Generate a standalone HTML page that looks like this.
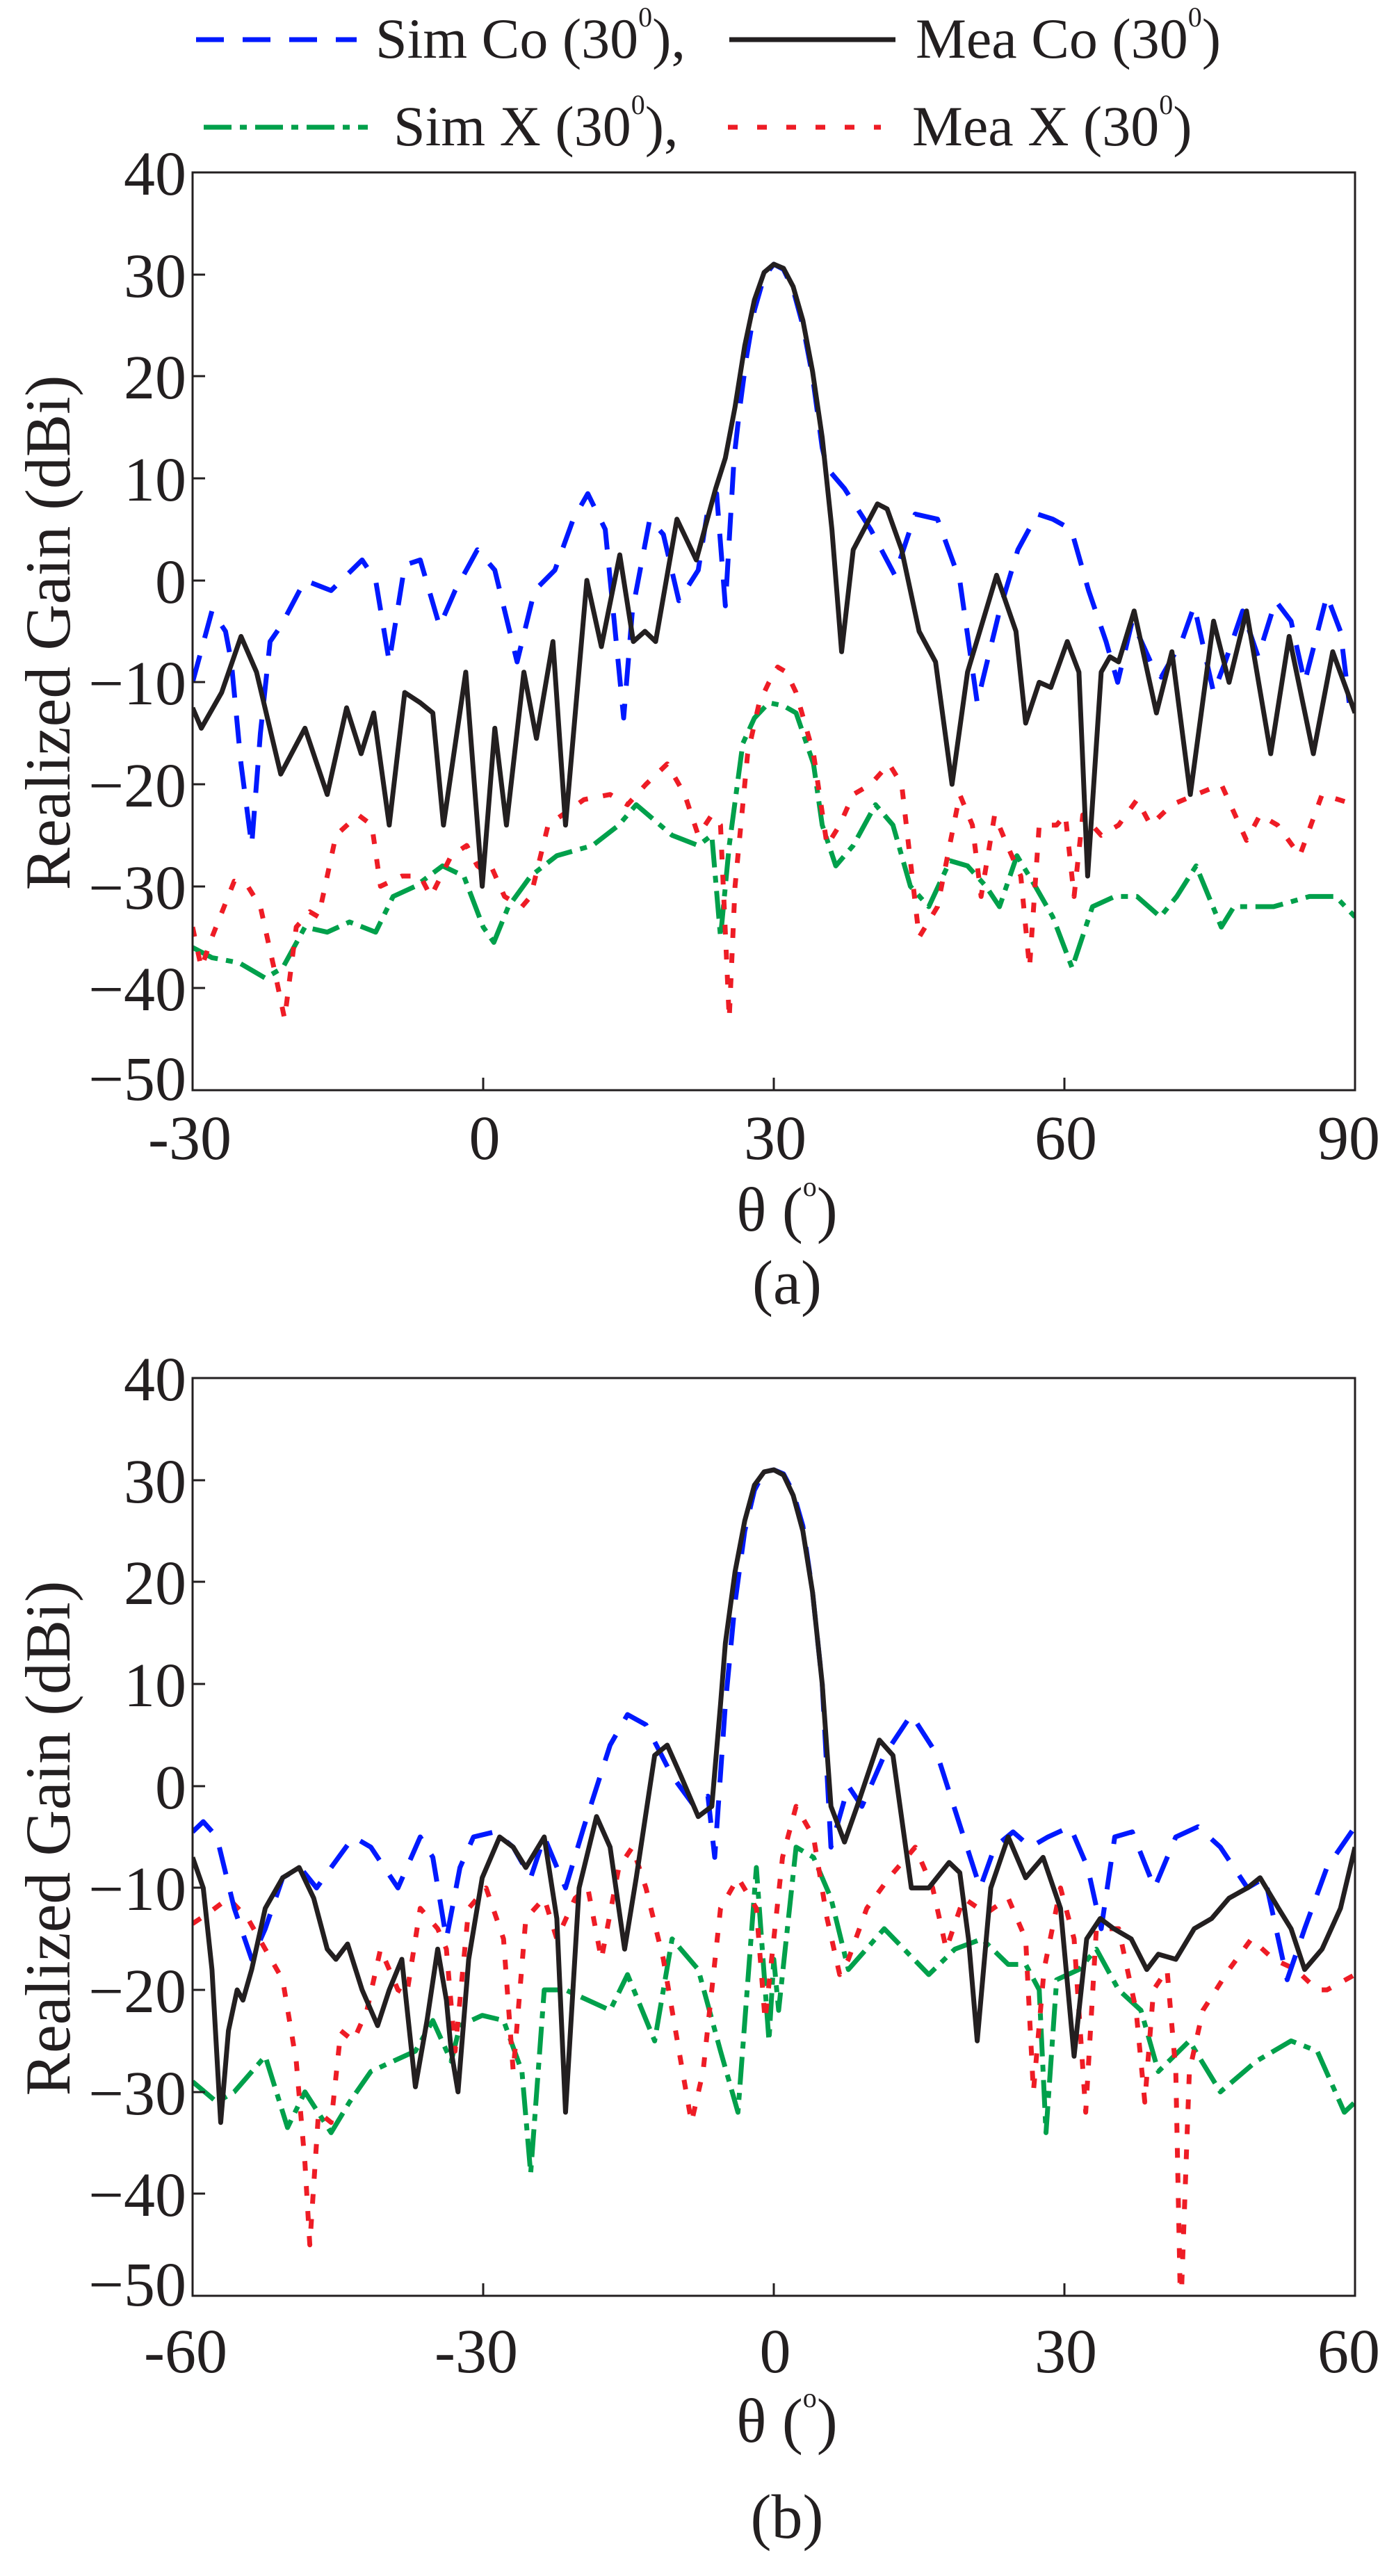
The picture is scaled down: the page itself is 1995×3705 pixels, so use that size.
<!DOCTYPE html>
<html><head><meta charset="utf-8"><style>
html,body{margin:0;padding:0;background:#fff;}
svg{display:block;}
text{font-family:"Liberation Serif","Times New Roman",serif;fill:#231f20;}
.ln{fill:none;vector-effect:non-scaling-stroke;stroke-width:7;stroke-linejoin:round;stroke-linecap:butt;}
.blue{stroke:#0019ff;stroke-dasharray:40 26;}
.black{stroke:#231f20;}
.green{stroke:#00a04b;stroke-dasharray:40 12 10 12;}
.red{stroke:#ee1c25;stroke-dasharray:14 22;}
</style></head><body>
<svg width="1995" height="3705" viewBox="0 0 1995 3705" xmlns="http://www.w3.org/2000/svg" font-family="Liberation Serif, Times New Roman, serif">
<defs>
<clipPath id="ca"><rect x="277" y="248" width="1672" height="1320"/></clipPath>
<clipPath id="cb"><rect x="277" y="1982" width="1672" height="1320"/></clipPath>
</defs>

<!-- Legend -->
<line x1="282" y1="57" x2="513" y2="57" stroke="#0019ff" stroke-width="7" stroke-dasharray="40 27"/>
<text x="540" y="83" font-size="82" font-family="Liberation Serif, serif">Sim Co (30<tspan font-size="40" dy="-45">0</tspan><tspan dy="45">),</tspan></text>
<line x1="1049" y1="57" x2="1288" y2="57" stroke="#231f20" stroke-width="7"/>
<text x="1317" y="83" font-size="82" font-family="Liberation Serif, serif">Mea Co (30<tspan font-size="40" dy="-45">0</tspan><tspan dy="45">)</tspan></text>
<line x1="293" y1="183" x2="529" y2="183" stroke="#00a04b" stroke-width="7" stroke-dasharray="40 12 10 12"/>
<text x="566" y="209" font-size="82" font-family="Liberation Serif, serif">Sim X (30<tspan font-size="40" dy="-45">0</tspan><tspan dy="45">),</tspan></text>
<line x1="1047" y1="183" x2="1267" y2="183" stroke="#ee1c25" stroke-width="7" stroke-dasharray="14 28"/>
<text x="1312" y="209" font-size="82" font-family="Liberation Serif, serif">Mea X (30<tspan font-size="40" dy="-45">0</tspan><tspan dy="45">)</tspan></text>

<!-- ============ Plot (a) ============ -->
<g clip-path="url(#ca)">
<g transform="matrix(13.933,0,0,-14.667,695,834.7)">
<polyline class="ln green" points="-30,-36 -28,-37 -25.2,-37.5 -22.5,-39 -20.7,-38 -18.4,-34 -16.1,-34.5 -13.8,-33.5 -11.1,-34.5 -9.3,-31 -7,-30 -4.2,-28 -2,-29 0,-34 1.1,-35.5 2.6,-32 4.9,-29 7.6,-27 11.3,-26 14,-24 15.8,-22 19.5,-25 22.2,-26 23.6,-25 24.5,-35 25.4,-26 26.8,-16 28,-13.5 29.5,-12 31,-12.3 32.3,-13 34.1,-18 35,-24 36.4,-28 38.2,-26 40.5,-22 42.3,-24 44.1,-30 46,-32 48.2,-27.5 50,-28 51.9,-30 53.3,-32 55.1,-27 57,-30 58.8,-33 60.8,-38 62.9,-32 65.2,-31 67.5,-31 69.9,-33 71.6,-31 73.6,-28 76.2,-34 77.5,-32 81.6,-32 85.3,-31 88,-31 90,-33"/>
<polyline class="ln red" points="-30,-34 -29.1,-38 -28,-35 -25.7,-29.5 -24.3,-30 -23,-32 -21.6,-38 -20.5,-43 -19.3,-34 -17.9,-32.5 -17,-33 -15.2,-25 -12.9,-23 -11.5,-24 -10.6,-30 -8.4,-29 -6.5,-29 -5.4,-31 -3.3,-27 -1.7,-26 -0.6,-28 0.1,-28.5 0.8,-28 2.2,-31 4,-32 4.9,-31 6.7,-24 10.4,-21.5 13.1,-21 14.9,-22 16.8,-20 19,-18 20.8,-21 22.2,-25 23.6,-23 24.5,-24 25.4,-43 26,-30 27.3,-17 28.5,-12 29.5,-10 30.4,-8.5 31.3,-9 32.3,-11 34.1,-17 35.5,-26 36.8,-24 38.2,-21 40,-20 41.9,-18 43.2,-20 45,-35 46.9,-32 49.2,-21 50.5,-24 51.4,-31 52.8,-23 54.1,-26 55.5,-29 56.4,-38 57.4,-24 59.2,-24 60.1,-23 61,-31 61.9,-23 63.8,-25 65.6,-24 67.5,-21.5 68.9,-24 71.1,-22 73.6,-21 76.2,-20 78.8,-25.5 80.2,-23 82,-24 84.3,-27 86.6,-21 90,-22"/>
<polyline class="ln blue" points="-30,-10 -28,-3 -26.6,-5 -26,-8 -25,-18 -23.9,-26 -23,-15 -22,-6 -20.9,-4.5 -18.4,0 -15.7,-1 -12.5,2 -11.1,0 -9.7,-8 -8.1,1.5 -6.5,2 -4.5,-4.5 -2.9,-1 -0.6,3 1.2,1 3.5,-8 5.3,-1 7.4,1 9.3,6 10.8,8.5 12.6,5 14.5,-13.5 15.4,-3 17.2,6 18.6,4.5 20.2,-2 22.2,1 23.2,7 24.1,8.5 25,-2.5 25.9,12 26.5,17 27.2,22 28,26.5 29,29.8 30,31 31,30.5 32,28.5 33,25 34,20 35,13 35.5,11 37.3,9 40,5 42.5,0.5 44.6,6.5 46.9,6 49.2,0 51,-12 53.3,-3 55.2,3 57.2,6.5 58.8,6 60.7,5 62.5,-1 64.3,-6 65.5,-10 67,-4 68.9,-8 70,-9.5 72.1,-6 73.4,-2.5 75.4,-11 76.6,-8 78.4,-3 80,-7.5 81.8,-2 83.4,-4 84.8,-10 87.1,-1.5 88.5,-5 89.4,-12"/>
<polyline class="ln black" points="-30,-12.5 -29.1,-14.5 -27,-11 -25,-5.5 -23.4,-9 -20.9,-19 -18.4,-14.5 -16.1,-21 -14.1,-12.5 -12.6,-17 -11.3,-13 -9.7,-24 -8.1,-11 -6.5,-12 -5.2,-13 -4.1,-24 -1.8,-9 -0.1,-30 1.2,-14.5 2.4,-24 4.2,-9 5.5,-15.5 7.2,-6 8.5,-24 10.7,0 12.2,-6.5 14.1,2.5 15.5,-6 16.7,-5 17.8,-6 20,6 22,2 24,9 25,12 26,17 27,23 28,27.5 29,30.2 30,31 31,30.6 32,28.8 33,25.5 34,20.5 35,14 36,5 37,-7 38.2,3 40.7,7.5 41.7,7 43.2,3 45,-5 46.7,-8 48.4,-20 50,-9 53,0.5 55,-5 56,-14 57.4,-10 58.6,-10.5 60.3,-6 61.5,-9 62.4,-29 63.8,-9 64.7,-7.5 65.6,-8 67.2,-3 69.5,-13 71.1,-7 73,-21 75.4,-4 77,-10 78.8,-3 81.3,-17 83.2,-5.5 85.7,-17 87.7,-7 90,-13"/>
</g></g>
<rect x="277" y="248" width="1672" height="1320" fill="none" stroke="#231f20" stroke-width="3"/>
<g stroke="#231f20" stroke-width="3">
<line x1="277" y1="395" x2="295" y2="395"/><line x1="277" y1="541" x2="295" y2="541"/><line x1="277" y1="688" x2="295" y2="688"/><line x1="277" y1="835" x2="295" y2="835"/><line x1="277" y1="981" x2="295" y2="981"/><line x1="277" y1="1128" x2="295" y2="1128"/><line x1="277" y1="1275" x2="295" y2="1275"/><line x1="277" y1="1421" x2="295" y2="1421"/>
<line x1="695" y1="1568" x2="695" y2="1550"/><line x1="1113" y1="1568" x2="1113" y2="1550"/><line x1="1531" y1="1568" x2="1531" y2="1550"/>
</g>
<g font-size="90" text-anchor="end" font-family="Liberation Serif, serif">
<text x="268" y="280">40</text><text x="268" y="427">30</text><text x="268" y="573">20</text><text x="268" y="720">10</text><text x="268" y="867">0</text><text x="268" y="1013">−10</text><text x="268" y="1160">−20</text><text x="268" y="1307">−30</text><text x="268" y="1453">−40</text><text x="268" y="1582">−50</text>
</g>
<g font-size="90" text-anchor="middle" font-family="Liberation Serif, serif">
<text x="273" y="1667">-30</text><text x="697" y="1667">0</text><text x="1115" y="1667">30</text><text x="1533" y="1667">60</text><text x="1940" y="1667">90</text>
<text x="1132" y="1770">θ (<tspan font-size="40" dy="-50">o</tspan><tspan dy="50">)</tspan></text>
<text x="1132" y="1875">(a)</text>
</g>
<text transform="translate(100,910) rotate(-90)" font-size="92" text-anchor="middle" font-family="Liberation Serif, serif">Realized Gain (dBi)</text>

<!-- ============ Plot (b) ============ -->
<g clip-path="url(#cb)">
<g transform="matrix(13.933,0,0,-14.667,1113,2568.7)">
<polyline class="ln green" points="-60,-29 -57.5,-31 -55.7,-30 -52.5,-26.5 -50.2,-33.5 -48.4,-30 -45.7,-34 -43.8,-31 -41.6,-28 -39.3,-27 -37,-26 -35.2,-23 -33.3,-27 -32.4,-23.5 -30.1,-22.5 -27.9,-23 -26,-28 -25.1,-38 -23.7,-20 -21.5,-20 -16.9,-22 -15.1,-18.5 -12.3,-25 -10.5,-15 -7.8,-18 -5.5,-26 -3.7,-32 -1.8,-8 -0.5,-25 0,-17 0.5,-22 2.3,-6 4.1,-7 5.9,-11 7.7,-18 11.4,-14 16,-18.5 18.7,-16 21.5,-15 24.2,-17.5 26,-17.5 27.4,-20 28.1,-34 29.2,-19 31.5,-18 33.3,-16 35.6,-20 37.9,-22 39.7,-28 42.9,-25 46.1,-30 49.8,-27 53.4,-25 56.1,-26 58.9,-32 60,-31"/>
<polyline class="ln red" points="-60,-13.5 -58.4,-12.5 -56.3,-11 -54.3,-13 -52.5,-16 -50.7,-19 -49.3,-27 -48.4,-37 -47.9,-45 -47,-32 -45.7,-33 -44.7,-24 -43.4,-25 -42,-22 -40.6,-16 -38.8,-20 -37.9,-20.5 -36.5,-12 -34.7,-14 -33.8,-16 -32.9,-26 -31.5,-12 -29.7,-10 -27.9,-15 -26.9,-28 -25.6,-13 -23.7,-11 -22.4,-15 -20.5,-11 -19.2,-10 -17.8,-17 -16,-8 -14.6,-6 -13.2,-10 -11.4,-17 -9.6,-27 -8.5,-33 -7.3,-28 -5.5,-12 -3.7,-9 -1.8,-12 -0.9,-23 0.9,-7 2.3,-2 4.1,-5 5.5,-13 6.8,-18.5 7.7,-17 9.6,-12 11.9,-9 14.6,-6 16.4,-10 17.8,-16 19.6,-11 21.9,-12.5 24.2,-11 26,-15 26.8,-30 27.9,-18 29.6,-10 31,-15 32.2,-32 33.3,-14 35.6,-14 37.4,-22 38.3,-31 39.2,-20 40.6,-18 41.5,-28 42,-52 42.9,-28 44.3,-22 47,-18 49.3,-15 51.6,-17 53.9,-18 56.1,-20 57.1,-20 60,-18.5"/>
<polyline class="ln blue" points="-60,-4.5 -58.9,-3.5 -57.5,-5 -55.7,-12 -53.9,-17 -52.5,-14 -50.7,-9 -48.9,-8 -47.2,-10 -45.7,-8 -43.4,-5 -41.6,-6 -38.8,-10 -36.5,-5 -35.2,-7 -33.8,-15 -32.4,-8 -31,-5 -28.8,-4.5 -26.9,-6 -25.1,-9 -23.7,-5 -21.5,-10 -19.6,-4 -16.9,4 -15.1,7 -13.2,6 -10.5,1 -8.2,-2 -6.8,-1 -6.1,-7 -5,8 -4,18 -3,25 -2,29 -1,30.8 0,31 1,30.6 2,28.8 3,25.5 4,19 5,10 5.9,-6 7.7,0 9.1,-2 11.4,3 14.2,7 16.9,3 19.6,-5 21.3,-10 22.8,-6 24.7,-4.5 26.5,-6 28.3,-5 30.6,-4 32.4,-8 33.8,-14 35.2,-5 37,-4.5 39.3,-10 41.5,-5 43.8,-4 46.1,-6 48.9,-10 50.7,-9 53,-19 54.8,-14 57.1,-8 60,-4"/>
<polyline class="ln black" points="-60,-7 -58.9,-10 -58,-18 -57.1,-33 -56.3,-24 -55.4,-20 -54.8,-21 -53.9,-18 -52.5,-12 -50.7,-9 -49,-8 -47.5,-11 -46.1,-16 -45.2,-17 -44,-15.5 -42.5,-20 -40.9,-23.5 -39.7,-20 -38.4,-17 -37,-29.5 -35.8,-23 -34.7,-16 -33.8,-21 -33.3,-26 -32.6,-30 -31.5,-17 -30.1,-9 -28.3,-5 -26.9,-6 -25.6,-8 -23.7,-5 -22.4,-13 -21.5,-32 -20.1,-10 -18.3,-3 -16.9,-6 -15.4,-16 -14.2,-9 -12.3,3 -11,4 -9.6,1 -7.8,-3 -6.4,-2 -5.5,8 -5,14 -4,21 -3,26 -2,29.5 -1,30.8 0,31 1,30.5 2,28.5 3,25 4,19 5,10 5.9,-2 7.3,-5.5 8.6,-2 10.9,4.5 12.3,3 14.2,-10 16,-10 18.1,-7.5 19.2,-8.5 20.1,-15 21,-25 22.4,-10 24.2,-5 26,-9 27.8,-7 29.6,-12 31,-26.5 32.3,-15 33.7,-13 35.1,-14 36.9,-15 38.5,-18 39.7,-16.5 41.5,-17 43.4,-14 45.2,-13 47,-11 48.9,-10 50.2,-9 52.1,-12 53.4,-14 54.8,-18 56.6,-16 58.5,-12 60,-6"/>
</g></g>
<rect x="277" y="1982" width="1672" height="1320" fill="none" stroke="#231f20" stroke-width="3"/>
<g stroke="#231f20" stroke-width="3">
<line x1="277" y1="2129" x2="295" y2="2129"/><line x1="277" y1="2275" x2="295" y2="2275"/><line x1="277" y1="2422" x2="295" y2="2422"/><line x1="277" y1="2569" x2="295" y2="2569"/><line x1="277" y1="2715" x2="295" y2="2715"/><line x1="277" y1="2862" x2="295" y2="2862"/><line x1="277" y1="3009" x2="295" y2="3009"/><line x1="277" y1="3155" x2="295" y2="3155"/>
<line x1="695" y1="3302" x2="695" y2="3284"/><line x1="1113" y1="3302" x2="1113" y2="3284"/><line x1="1531" y1="3302" x2="1531" y2="3284"/>
</g>
<g font-size="90" text-anchor="end" font-family="Liberation Serif, serif">
<text x="268" y="2014">40</text><text x="268" y="2161">30</text><text x="268" y="2307">20</text><text x="268" y="2454">10</text><text x="268" y="2601">0</text><text x="268" y="2747">−10</text><text x="268" y="2894">−20</text><text x="268" y="3041">−30</text><text x="268" y="3187">−40</text><text x="268" y="3316">−50</text>
</g>
<g font-size="90" text-anchor="middle" font-family="Liberation Serif, serif">
<text x="267" y="3412">-60</text><text x="685" y="3412">-30</text><text x="1115" y="3412">0</text><text x="1533" y="3412">30</text><text x="1940" y="3412">60</text>
<text x="1132" y="3512">θ (<tspan font-size="40" dy="-50">o</tspan><tspan dy="50">)</tspan></text>
<text x="1132" y="3650">(b)</text>
</g>
<text transform="translate(100,2644) rotate(-90)" font-size="92" text-anchor="middle" font-family="Liberation Serif, serif">Realized Gain (dBi)</text>
</svg>
</body></html>
